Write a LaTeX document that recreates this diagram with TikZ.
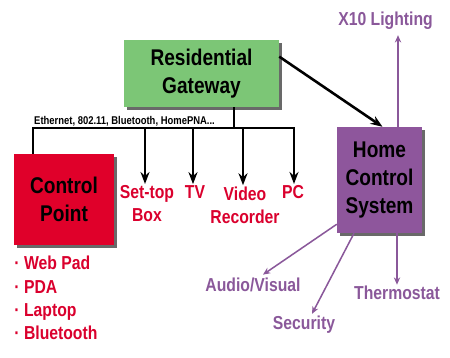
\documentclass[tikz,border=0pt]{standalone}
\usepackage{fontspec}
\setmainfont{Liberation Sans}
\newfontfamily\narrowsans[FakeStretch=0.84]{Liberation Sans}
\usetikzlibrary{positioning, arrows.meta, calc, shadows}

\definecolor{gwgreen}{RGB}{124,198,118}
\definecolor{cpred}{RGB}{224,0,42}
\definecolor{hcspurple}{RGB}{142,86,156}
\definecolor{lblred}{RGB}{218,0,45}
\definecolor{lblpurple}{RGB}{138,88,154}

\begin{document}
\begin{tikzpicture}[
    x=0.03cm, y=-0.03cm,
    box/.style={rectangle, inner sep=0pt, align=center,
        font=\narrowsans\fontsize{19.4}{23.8}\selectfont\bfseries,
        drop shadow={shadow xshift=0.09cm, shadow yshift=-0.09cm, fill=black!65, opacity=.9}},
    devlabel/.style={text=lblred, inner sep=1pt, align=center,
        font=\narrowsans\fontsize{16}{19.6}\selectfont\bfseries},
    ctrllabel/.style={text=lblpurple, inner sep=1pt, align=center,
        font=\narrowsans\fontsize{16}{19.6}\selectfont\bfseries},
    feed/.style={line width=2.2pt, -{Stealth[length=3.6mm, width=2.7mm]}},
    bus/.style={line width=2.2pt},
    ctrl/.style={line width=1.3pt, lblpurple, -{Stealth[length=2.2mm, width=1.9mm]}}
]
\useasboundingbox (0,0) rectangle (450,357);

% boxes
\node[box, fill=gwgreen, minimum width=4.65cm, minimum height=2.01cm] (gw) at (201.5,73.5) {Residential\\Gateway};
\node[box, fill=cpred, minimum width=3.0cm, minimum height=2.73cm] (cp) at (64,199.5) {Control\\Point};
\node[box, fill=hcspurple, minimum width=2.55cm, minimum height=3.18cm] (hcs) at (379.5,180) {Home\\Control\\System};

% bus
\coordinate (busL) at (33,128);
\coordinate (busR) at (294,128);
\coordinate (busjoint) at (234,128);
\node[anchor=base west, inner sep=0pt, font=\narrowsans\fontsize{9.6}{11}\selectfont\bfseries] (buslbl) at (34,124.5) {Ethernet, 802.11, Bluetooth, HomePNA...};

% devices
\node[devlabel] (stb) at (147,203.5) {Set-top\\Box};
\node[devlabel] (tv) at (195,192) {TV};
\node[devlabel] (vcr) at (245,205) {Video\\Recorder};
\node[devlabel] (pc) at (293,192) {PC};

\coordinate (d1) at (145,128);
\coordinate (d2) at (193,128);
\coordinate (d3) at (243,128);

\draw[bus] (gw.south -| busjoint) -- (busjoint);
\draw[feed] (busL |- cp.north) -- (busL) -- (busR) -- (busR |- pc.north);
\draw[feed] (d1) -- (d1 |- stb.north);
\draw[feed] (d2) -- (d2 |- tv.north);
\draw[feed] (d3) -- (d3 |- vcr.north);
\draw[feed] ($(gw.north east)!0.25!(gw.south east)$) -- ($(hcs.north)+(3,0)$);

% control point devices
\node[devlabel, anchor=base west] (webpad) at (13,269) {· Web Pad};
\node[devlabel, anchor=base west] (pda) at (13,293) {· PDA};
\node[devlabel, anchor=base west] (laptop) at (13,316) {· Laptop};
\node[devlabel, anchor=base west] (bt) at (13,339) {· Bluetooth};

% home control outputs
\node[ctrllabel] (x10) at (385.5,21) {X10 Lighting};
\node[ctrllabel] (av) at (253,285) {Audio/Visual};
\node[ctrllabel] (sec) at (304,325) {Security};
\node[ctrllabel] (thermo) at (397,293) {Thermostat};

\coordinate (hcsx) at (398,127);
\draw[ctrl] (hcsx) -- ($(hcsx |- x10.south)+(0,4)$);
\draw[ctrl] ($(hcs.south west)+(0,-9)$) -- ($(av.north)+(10,-2)$);
\draw[ctrl] ($(hcs.south)+(-25.5,0)$) -- ($(sec.north)+(8,-1)$);
\draw[ctrl] (thermo.north |- hcs.south) -- (thermo.north);

\end{tikzpicture}
\end{document}
